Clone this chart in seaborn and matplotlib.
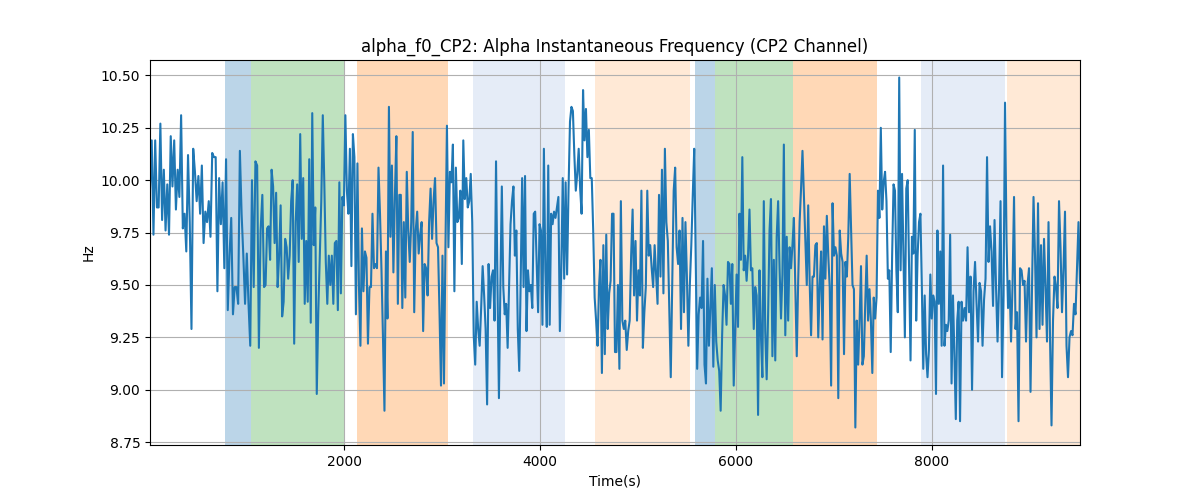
import numpy as np
import matplotlib
matplotlib.use("Agg")
import matplotlib.pyplot as plt
import pandas as pd
import seaborn as sns

# sample values, one list per stretch of the time axis
seg_edges = [20, 1184, 2367, 3551, 4735, 5918, 7102, 8286, 9510]

hz_seg1 = [9.96, 10.19, 9.74, 10.19, 9.87, 9.87, 10.27, 9.81, 10.05, 9.76, 9.98, 9.74, 10.21, 9.97, 10.19, 9.86,
           10.05, 9.92, 10.31, 9.77, 9.84, 9.66, 10.12, 9.80, 9.29, 10.15, 10.04, 9.90, 10.02, 9.84, 10.07, 9.70,
           9.85, 9.80, 9.90, 9.73, 10.13, 10.11, 10.11, 9.47, 10.01, 9.79, 9.99, 9.58, 10.10, 9.38, 9.64, 9.82,
           9.36, 9.49, 9.49, 9.41, 10.14, 9.84, 9.64, 9.41, 9.65, 9.41, 9.21, 10.00, 9.49, 10.09, 10.07, 9.20,
           9.76, 9.93]
hz_seg2 = [9.49, 9.50, 9.77, 9.78, 9.62, 10.05, 9.97, 9.70, 9.94, 9.49, 9.64, 9.88, 9.35, 9.42, 9.72, 9.68,
           9.53, 9.64, 9.90, 10.00, 9.22, 9.80, 9.98, 9.61, 10.22, 9.72, 10.01, 9.41, 9.71, 9.42, 10.10, 9.32,
           10.32, 9.69, 9.87, 8.98, 9.37, 9.64, 9.90, 10.31, 9.99, 9.61, 9.41, 9.64, 9.50, 9.64, 9.41, 9.70,
           9.71, 9.38, 9.99, 9.46, 9.92, 9.88, 10.31, 9.95, 9.84, 10.15, 9.59, 10.22, 10.11, 9.36, 10.08, 9.50,
           9.21, 9.77, 9.47, 9.66, 9.63, 9.22, 9.49, 9.49, 9.84, 9.58, 9.60, 9.58, 10.06]
hz_seg3 = [9.84, 9.57, 9.25, 8.90, 9.66, 9.34, 10.35, 9.73, 10.07, 9.56, 9.92, 10.21, 9.41, 9.93, 9.93, 9.39,
           9.80, 9.44, 10.04, 9.76, 9.61, 9.80, 10.23, 9.37, 9.76, 9.85, 9.65, 9.74, 9.80, 9.28, 9.60, 9.58,
           9.45, 9.80, 9.96, 9.72, 9.90, 10.01, 9.70, 9.68, 9.37, 9.02, 9.64, 9.03, 9.68, 10.26, 9.68, 10.04,
           9.99, 10.17, 9.47, 10.06, 9.80, 9.82, 9.95, 9.60, 10.19, 9.91, 10.01, 9.87, 9.90, 10.03, 9.80, 9.26,
           9.12, 9.42, 9.29, 9.21, 9.39, 9.59, 9.45, 9.29, 8.93, 9.60, 9.39, 9.54, 9.57, 9.33]
hz_seg4 = [10.09, 9.50, 8.96, 9.49, 9.97, 9.49, 9.36, 9.41, 9.20, 9.49, 9.79, 9.90, 9.97, 9.64, 9.76, 9.29,
           9.09, 9.52, 10.01, 9.49, 10.02, 9.28, 9.57, 9.47, 9.50, 9.39, 9.84, 9.85, 9.61, 9.37, 9.79, 9.76,
           9.31, 10.15, 9.57, 9.30, 10.07, 9.31, 9.84, 9.79, 9.85, 9.82, 9.87, 9.92, 9.28, 9.58, 10.01, 9.53,
           9.99, 9.55, 9.96, 10.28, 10.35, 10.33, 10.12, 9.95, 10.03, 10.15, 9.96, 9.84, 10.43, 10.19, 10.34,
           10.11, 10.24, 10.01, 10.01, 9.76, 9.44, 9.33, 9.21, 9.49, 9.62, 9.08, 9.69, 9.17, 9.74, 9.29, 9.46,
           9.52]
hz_seg5 = [9.84, 9.84, 9.18, 9.18, 9.50, 9.10, 9.90, 9.33, 9.29, 9.33, 9.19, 9.28, 9.33, 9.64, 9.86, 9.45,
           9.71, 9.33, 9.57, 9.45, 9.95, 9.20, 9.37, 9.49, 9.95, 9.64, 9.69, 9.58, 9.49, 9.69, 9.55, 9.41,
           9.93, 9.54, 10.05, 9.46, 10.15, 9.80, 9.71, 9.39, 9.06, 9.52, 9.95, 10.06, 9.68, 9.60, 9.76, 9.29,
           9.82, 9.37, 9.80, 9.54, 9.21, 9.50, 9.69, 9.93, 10.15, 9.64, 9.10, 9.36, 9.44, 9.39, 9.71, 9.12,
           9.03, 9.53, 9.21, 9.39, 9.58, 9.11, 9.50, 9.23, 9.14, 9.09, 8.90, 9.26, 9.50, 9.45, 9.31]
hz_seg6 = [9.61, 9.60, 9.41, 9.60, 9.02, 9.29, 9.55, 9.30, 9.84, 9.62, 10.11, 9.57, 9.64, 9.52, 9.64, 9.86,
           9.57, 9.58, 9.29, 9.49, 9.45, 8.88, 9.57, 9.26, 9.06, 9.90, 9.28, 9.05, 9.36, 9.76, 9.91, 9.16,
           9.62, 9.14, 9.73, 9.90, 9.58, 9.34, 9.55, 10.17, 9.26, 9.73, 9.33, 9.68, 9.58, 9.69, 9.82, 9.49,
           9.16, 9.52, 9.80, 9.96, 10.14, 9.93, 9.73, 9.50, 9.88, 9.52, 9.26, 9.54, 9.54, 9.69, 9.70, 9.25,
           9.49, 9.66, 9.24, 9.78, 9.53, 9.83, 9.64, 9.49, 9.02, 9.89, 9.64, 9.68, 9.64, 8.96, 9.76, 9.65, 9.61]
hz_seg7 = [9.17, 9.61, 9.54, 9.73, 10.03, 9.76, 9.50, 9.48, 8.82, 9.33, 9.12, 9.33, 9.59, 9.12, 9.16, 9.41,
           9.64, 9.33, 9.48, 9.33, 9.08, 9.44, 9.34, 9.44, 9.95, 9.82, 10.25, 9.86, 9.99, 10.04, 9.90, 9.53,
           9.57, 9.18, 9.64, 9.98, 9.95, 9.57, 9.37, 10.49, 9.57, 10.03, 9.64, 9.25, 9.96, 10.00, 9.57, 9.14,
           9.73, 9.65, 10.24, 9.33, 9.64, 9.80, 9.84, 9.49, 9.10, 9.45, 9.17, 9.06, 9.19, 9.55, 9.34, 9.45,
           9.42, 8.98, 9.76, 9.41, 9.66, 9.21, 10.07, 9.21, 9.31, 9.28, 9.33, 9.74, 9.03, 9.45, 9.17, 8.86,
           9.33, 9.42]
hz_seg8 = [8.85, 9.42, 9.33, 9.39, 9.33, 9.68, 9.37, 9.54, 9.00, 9.47, 9.61, 9.41, 9.23, 9.51, 9.47, 9.21,
           9.43, 9.53, 10.11, 9.61, 9.78, 9.66, 9.40, 9.81, 9.49, 9.23, 9.49, 9.90, 9.06, 9.45, 10.37, 9.71,
           9.39, 9.52, 9.23, 9.50, 9.92, 9.29, 9.37, 8.85, 9.58, 9.57, 9.50, 9.52, 9.23, 9.50, 9.58, 8.99,
           9.49, 9.92, 9.64, 9.25, 9.89, 9.29, 9.69, 9.31, 9.72, 9.49, 9.23, 9.80, 9.25, 8.83, 9.33, 9.54,
           9.49, 9.39, 9.90, 9.68, 9.37, 9.58, 9.85, 9.21, 9.06, 9.25, 9.28, 9.26, 9.41, 9.36, 9.58, 9.80, 9.51]

segments = [hz_seg1, hz_seg2, hz_seg3, hz_seg4, hz_seg5, hz_seg6, hz_seg7, hz_seg8]

# marked intervals (start, end, kind)
span_starts = [786, 1054, 2136, 3320, 4561, 5582, 5789, 6582, 7891, 8762]
span_ends = [1054, 2007, 3057, 4252, 5531, 5789, 6582, 7435, 8748, 9510]
span_kinds = ["blue", "green", "orange", "lightblue", "lightorange",
              "blue", "green", "orange", "lightblue", "lightorange"]

span_style = {
    "blue": ("C0", 0.3),
    "green": ("C2", 0.3),
    "orange": ("C1", 0.3),
    "lightblue": ("#3a72c4", 0.13),
    "lightorange": ("C1", 0.17),
}

times = []
for i, seg in enumerate(segments):
    last = i == len(segments) - 1
    times.append(np.linspace(seg_edges[i], seg_edges[i + 1], len(seg), endpoint=last))
df = pd.DataFrame({"time": np.concatenate(times), "hz": np.concatenate(segments)})

fig, ax = plt.subplots(figsize=(12, 5))

for s, e, k in zip(span_starts, span_ends, span_kinds):
    c, a = span_style[k]
    ax.axvspan(s, e, color=c, alpha=a, linewidth=0)

sns.lineplot(data=df, x="time", y="hz", ax=ax, estimator=None, color="C0", linewidth=1.5)

ax.set_xlim(df["time"].min(), df["time"].max())
ax.grid(True)
ax.set_title("alpha_f0_CP2: Alpha Instantaneous Frequency (CP2 Channel)")
ax.set_xlabel("Time(s)")
ax.set_ylabel("Hz")

fig.savefig("out.png", dpi=100)
